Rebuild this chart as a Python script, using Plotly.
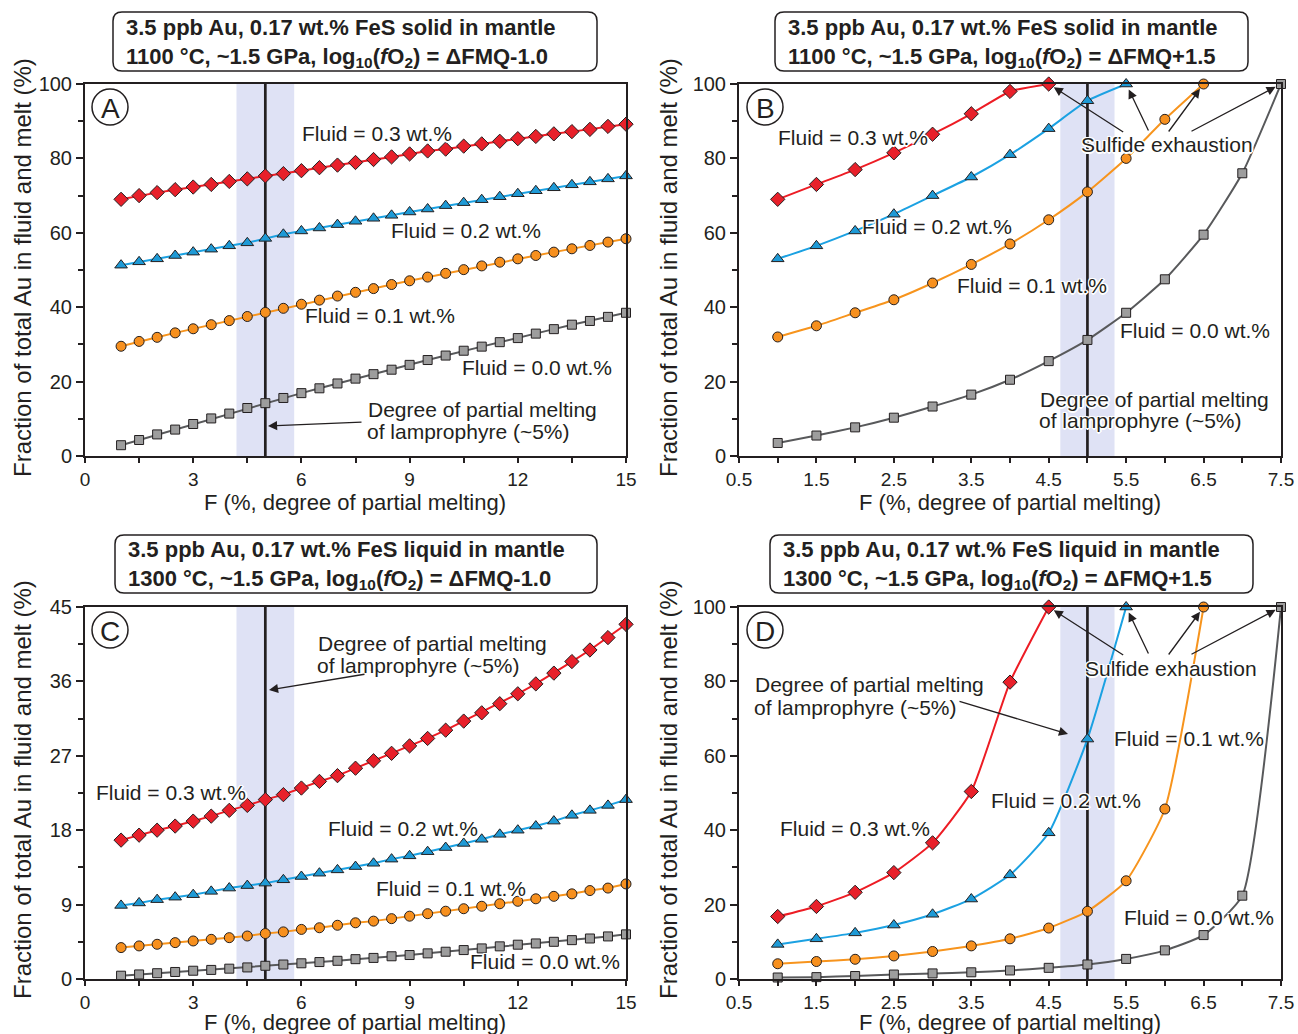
import plotly.graph_objects as go

W, H = 1298, 1034
FONT = "Liberation Sans, Arial, sans-serif"
INK = "#231f20"

# ---------------- data ----------------
F_wide = [1, 1.5, 2, 2.5, 3, 3.5, 4, 4.5, 5, 5.5, 6, 6.5, 7, 7.5, 8, 8.5, 9, 9.5,
          10, 10.5, 11, 11.5, 12, 12.5, 13, 13.5, 14, 14.5, 15]

# Panel A: FeS solid, 1100 C, dFMQ-1.0
A_f03 = [69.0, 70.0, 70.8, 71.6, 72.3, 73.0, 73.8, 74.5, 75.3, 75.9, 76.7, 77.5, 78.2, 78.9, 79.7,
         80.4, 81.2, 82.0, 82.5, 83.3, 83.9, 84.6, 85.3, 85.9, 86.6, 87.2, 87.8, 88.6, 89.2]
A_f02 = [51.3, 52.2, 53.0, 53.9, 54.8, 55.6, 56.5, 57.3, 58.5, 59.6, 60.5, 61.3, 62.2, 63.1, 63.9,
         64.7, 65.6, 66.4, 67.3, 68.1, 68.9, 69.7, 70.5, 71.3, 72.1, 72.9, 73.7, 74.5, 75.3]
A_f01 = [29.5, 30.8, 31.9, 33.1, 34.2, 35.3, 36.4, 37.5, 38.6, 39.7, 40.8, 41.9, 43.0, 44.0, 45.0,
         46.1, 47.1, 48.1, 49.1, 50.1, 51.1, 52.1, 53.0, 53.9, 54.8, 55.7, 56.6, 57.5, 58.4]
A_f00 = [2.9, 4.3, 5.8, 7.1, 8.6, 10.1, 11.4, 12.9, 14.2, 15.6, 16.9, 18.2, 19.5, 20.8, 22.0,
         23.2, 24.5, 25.8, 27.0, 28.3, 29.4, 30.6, 31.7, 32.9, 34.1, 35.3, 36.3, 37.4, 38.5]

# Panel C: FeS liquid, 1300 C, dFMQ-1.0
C_f03 = [16.8, 17.4, 18.0, 18.5, 19.1, 19.7, 20.4, 21.0, 21.7, 22.3, 23.1, 23.9, 24.6, 25.5, 26.4,
         27.3, 28.2, 29.1, 30.1, 31.2, 32.2, 33.3, 34.5, 35.7, 37.0, 38.4, 39.8, 41.3, 42.9]
C_f02 = [8.9, 9.2, 9.6, 9.9, 10.2, 10.6, 11.0, 11.3, 11.6, 12.0, 12.4, 12.8, 13.2, 13.6, 14.0,
         14.5, 14.9, 15.4, 15.9, 16.4, 16.9, 17.5, 18.0, 18.5, 19.1, 19.8, 20.4, 21.0, 21.7]
C_f01 = [3.8, 4.0, 4.2, 4.4, 4.6, 4.8, 5.0, 5.2, 5.5, 5.7, 6.0, 6.2, 6.5, 6.8, 7.0,
         7.3, 7.6, 7.9, 8.2, 8.5, 8.8, 9.1, 9.4, 9.7, 10.0, 10.3, 10.7, 11.0, 11.5]
C_f00 = [0.4, 0.55, 0.7, 0.85, 1.0, 1.1, 1.25, 1.4, 1.6, 1.75, 1.9, 2.05, 2.2, 2.4, 2.55,
         2.75, 2.9, 3.1, 3.3, 3.5, 3.7, 3.95, 4.15, 4.3, 4.5, 4.7, 4.9, 5.15, 5.4]

# Panels B and D (narrow F range, ending at sulfide exhaustion)
F_03 = [1, 1.5, 2, 2.5, 3, 3.5, 4, 4.5]
F_02 = [1, 1.5, 2, 2.5, 3, 3.5, 4, 4.5, 5, 5.5]
F_01 = [1, 1.5, 2, 2.5, 3, 3.5, 4, 4.5, 5, 5.5, 6, 6.5]
F_00 = [1, 1.5, 2, 2.5, 3, 3.5, 4, 4.5, 5, 5.5, 6, 6.5, 7, 7.5]

B_f03 = [69.0, 73.0, 77.0, 81.5, 86.5, 92.0, 98.0, 100.0]
B_f02 = [53.0, 56.5, 60.5, 65.0, 70.0, 75.0, 81.0, 88.0, 95.5, 100.0]
B_f01 = [32.0, 35.0, 38.5, 42.0, 46.5, 51.5, 57.0, 63.5, 71.0, 80.0, 90.5, 100.0]
B_f00 = [3.5, 5.5, 7.7, 10.3, 13.3, 16.5, 20.5, 25.5, 31.2, 38.5, 47.5, 59.5, 76.0, 100.0]

D_f03 = [16.8, 19.5, 23.3, 28.6, 36.6, 50.4, 79.8, 100.0]
D_f02 = [9.3, 10.8, 12.4, 14.5, 17.4, 21.5, 28.0, 39.3, 64.5, 100.0]
D_f01 = [4.1, 4.7, 5.3, 6.2, 7.4, 8.9, 10.8, 13.7, 18.2, 26.4, 45.7, 100.0]
D_f00 = [0.4, 0.5, 0.8, 1.2, 1.5, 1.8, 2.3, 3.0, 3.9, 5.4, 7.7, 11.8, 22.4, 100.0]

series_labels = ["Fluid = 0.3 wt.%", "Fluid = 0.2 wt.%", "Fluid = 0.1 wt.%", "Fluid = 0.0 wt.%"]
x_title = "F (%, degree of partial melting)"
y_title = "Fraction of total Au in fluid and melt (%)"
panel_titles = [
    "<b>3.5 ppb Au, 0.17 wt.% FeS solid in mantle<br>1100 °C, ~1.5 GPa, log<sub>10</sub>(<i>f</i>O<sub>2</sub>) = ΔFMQ-1.0</b>",
    "<b>3.5 ppb Au, 0.17 wt.% FeS solid in mantle<br>1100 °C, ~1.5 GPa, log<sub>10</sub>(<i>f</i>O<sub>2</sub>) = ΔFMQ+1.5</b>",
    "<b>3.5 ppb Au, 0.17 wt.% FeS liquid in mantle<br>1300 °C, ~1.5 GPa, log<sub>10</sub>(<i>f</i>O<sub>2</sub>) = ΔFMQ-1.0</b>",
    "<b>3.5 ppb Au, 0.17 wt.% FeS liquid in mantle<br>1300 °C, ~1.5 GPa, log<sub>10</sub>(<i>f</i>O<sub>2</sub>) = ΔFMQ+1.5</b>",
]

# ---------------- styles ----------------
STY = [
    dict(line="#ed1c24", fill="#e8202a", symbol="diamond", size=11),
    dict(line="#1ba1e2", fill="#1e9ad6", symbol="triangle-up", size=11),
    dict(line="#f7941d", fill="#f7901e", symbol="circle", size=10),
    dict(line="#58595b", fill="#9d9d9d", symbol="square", size=9),
]


def px(x, y):
    return x / W, 1 - y / H


fig = go.Figure()

# axes geometry (pixels)
PX = {1: (85, 626), 2: (739, 1281), 3: (85, 626), 4: (739, 1281)}
PY = {1: (84, 456), 2: (84, 456), 3: (607, 979), 4: (607, 979)}


def add_series(ax, xs_list, ys_list, shape):
    for k, (xs, ys) in enumerate(zip(xs_list, ys_list)):
        s = STY[k]
        fig.add_trace(go.Scatter(
            x=xs, y=ys, mode="lines+markers",
            xaxis="x" if ax == 1 else f"x{ax}", yaxis="y" if ax == 1 else f"y{ax}",
            line=dict(color=s["line"], width=2, shape=shape, smoothing=0.5),
            marker=dict(symbol=s["symbol"], size=s["size"], color=s["fill"],
                        line=dict(color=INK, width=1)),
            cliponaxis=False, showlegend=False, hoverinfo="x+y"))


add_series(1, [F_wide] * 4, [A_f03, A_f02, A_f01, A_f00], "linear")
add_series(2, [F_03, F_02, F_01, F_00], [B_f03, B_f02, B_f01, B_f00], "spline")
add_series(3, [F_wide] * 4, [C_f03, C_f02, C_f01, C_f00], "linear")
add_series(4, [F_03, F_02, F_01, F_00], [D_f03, D_f02, D_f01, D_f00], "spline")

tickfont = dict(family=FONT, size=20, color=INK)
xtickfont = dict(family=FONT, size=19, color=INK)


def axis_x(ax, rng, dtick, tick0, minor):
    x0, x1 = PX[ax]
    return dict(domain=[x0 / W, x1 / W], range=rng, dtick=dtick, tick0=tick0, automargin=False,
                showline=True, linecolor=INK, linewidth=2, mirror=True,
                ticks="outside", ticklen=5, tickwidth=1.5, tickcolor=INK,
                minor=dict(ticks="outside", ticklen=5, tickwidth=1.5, tickcolor=INK, dtick=minor, tick0=tick0),
                showgrid=False, zeroline=False, tickfont=xtickfont,
                anchor="y" if ax == 1 else f"y{ax}")


def axis_y(ax, rng, dtick, minor):
    y0, y1 = PY[ax]
    return dict(domain=[1 - y1 / H, 1 - y0 / H], range=rng, dtick=dtick, tick0=0, automargin=False,
                showline=True, linecolor=INK, linewidth=2, mirror=True,
                ticks="outside", ticklen=7, tickwidth=1.5, tickcolor=INK,
                minor=dict(ticks="outside", ticklen=5, tickwidth=1.5, tickcolor=INK, dtick=minor, tick0=0),
                showgrid=False, zeroline=False, tickfont=tickfont,
                anchor="x" if ax == 1 else f"x{ax}")


layout = dict(
    width=W, height=H, margin=dict(l=0, r=0, t=0, b=0, autoexpand=False),
    paper_bgcolor="white", plot_bgcolor="white", showlegend=False,
    font=dict(family=FONT, color=INK),
    xaxis=axis_x(1, [0, 15], 3, 0, 1.5), yaxis=axis_y(1, [0, 100], 20, 10),
    xaxis2=axis_x(2, [0.5, 7.5], 1, 0.5, 0.5), yaxis2=axis_y(2, [0, 100], 20, 10),
    xaxis3=axis_x(3, [0, 15], 3, 0, 1.5), yaxis3=axis_y(3, [0, 45], 9, 4.5),
    xaxis4=axis_x(4, [0.5, 7.5], 1, 0.5, 0.5), yaxis4=axis_y(4, [0, 100], 20, 10),
)
fig.update_layout(**layout)

shapes = []
annotations = []
HALO = "-1px -1px 0 #fff, 1px -1px 0 #fff, -1px 1px 0 #fff, 1px 1px 0 #fff, 0 2px 0 #fff, 2px 0 0 #fff"


def xr(ax):
    return "x" if ax == 1 else f"x{ax}"


def yd(ax):
    return "y domain" if ax == 1 else f"y{ax} domain"


# shaded band + vertical line at F = 5%
for ax, (b0, b1) in {1: (4.2, 5.8), 2: (4.65, 5.35), 3: (4.2, 5.8), 4: (4.65, 5.35)}.items():
    shapes.append(dict(type="rect", xref=xr(ax), yref=yd(ax), x0=b0, x1=b1, y0=0, y1=1,
                       fillcolor="#dfe2f5", line=dict(width=0), layer="below"))
    shapes.append(dict(type="line", xref=xr(ax), yref=yd(ax), x0=5, x1=5, y0=0, y1=1,
                       line=dict(color=INK, width=2.7), layer="below"))


def text(x, y, t, size=21, xanchor="center", angle=0):
    X, Y = px(x, y)
    annotations.append(dict(x=X, y=Y, xref="paper", yref="paper", text=t, showarrow=False,
                            xanchor=xanchor, yanchor="middle", textangle=angle,
                            font=dict(family=FONT, size=size, color=INK, shadow=HALO)))


def arrow_px(hx, hy, tx, ty):
    X, Y = px(hx, hy)
    annotations.append(dict(x=X, y=Y, xref="paper", yref="paper", text="", showarrow=True,
                            ax=tx - hx, ay=ty - hy, axref="pixel", ayref="pixel",
                            arrowhead=2, arrowsize=1.4, arrowwidth=1.3, arrowcolor=INK, standoff=0))


def arrow_data(ax, x, y, dx, dy):
    annotations.append(dict(x=x, y=y, xref=xr(ax), yref="y" if ax == 1 else f"y{ax}", text="",
                            showarrow=True, ax=dx, ay=dy, axref="pixel", ayref="pixel",
                            arrowhead=2, arrowsize=1.4, arrowwidth=1.3, arrowcolor=INK, standoff=6))


def rbox(x0, y0, x1, y1, r=9):
    pts = lambda x, y: "%.5f,%.5f" % px(x, y)
    path = ("M " + pts(x0 + r, y0) + " L " + pts(x1 - r, y0) + " Q " + pts(x1, y0) + " " + pts(x1, y0 + r) +
            " L " + pts(x1, y1 - r) + " Q " + pts(x1, y1) + " " + pts(x1 - r, y1) +
            " L " + pts(x0 + r, y1) + " Q " + pts(x0, y1) + " " + pts(x0, y1 - r) +
            " L " + pts(x0, y0 + r) + " Q " + pts(x0, y0) + " " + pts(x0 + r, y0) + " Z")
    shapes.append(dict(type="path", xref="paper", yref="paper", path=path,
                       line=dict(color=INK, width=1.5), fillcolor="white"))


# title boxes
boxes = [(113, 12, 597, 71), (775, 12, 1248, 71), (115, 535, 597, 593), (770, 535, 1253, 593)]
for (x0, y0, x1, y1), t in zip(boxes, panel_titles):
    rbox(x0, y0, x1, y1)
    X, Y = px(x0 + 11, (y0 + y1) / 2 + 1)
    annotations.append(dict(x=X, y=Y, xref="paper", yref="paper", text=t, showarrow=False,
                            xanchor="left", yanchor="middle", align="left",
                            font=dict(family=FONT, size=22, color=INK)))

# circled panel letters
for (cx, cy), letter in zip([(110, 107), (765, 107), (110, 630), (765, 630)], "ABCD"):
    X0, Y0 = px(cx - 18, cy + 18)
    X1, Y1 = px(cx + 18, cy - 18)
    shapes.append(dict(type="circle", xref="paper", yref="paper", x0=X0, y0=Y0, x1=X1, y1=Y1,
                       line=dict(color=INK, width=1.5)))
    text(cx, cy + 1, letter, size=28)

# axis titles
for cx, cy in [(355, 502), (1010, 502), (355, 1022), (1010, 1022)]:
    text(cx, cy, x_title, size=22)
for cx, cy in [(22, 268), (668, 268), (22, 790), (668, 790)]:
    text(cx, cy, y_title, size=24, angle=-90)

# Panel A labels
text(377, 133, series_labels[0])
text(466, 231, series_labels[1])
text(380, 316, series_labels[2])
text(537, 367, series_labels[3])
text(482, 409, "Degree of partial melting")
text(365, 431, "of lamprophyre (~5%)", xanchor="left")
arrow_px(268, 426, 363, 422)

# Panel B labels
text(853, 138, series_labels[0])
text(937, 226, series_labels[1])
text(1032, 285, series_labels[2])
text(1195, 330, series_labels[3])
text(1154, 399, "Degree of partial melting")
text(1037, 421, "of lamprophyre (~5%)", xanchor="left")
for x, dx, dy in [(4.5, 76, 49), (5.5, 23, 48), (6.5, -36, 49), (7.5, -91, 48)]:
    arrow_data(2, x, 100, dx, dy)
text(1167, 144, "Sulfide exhaustion")

# Panel C labels
text(432, 643, "Degree of partial melting")
text(315, 665, "of lamprophyre (~5%)", xanchor="left")
arrow_px(269, 690, 366, 674)
text(171, 792, series_labels[0])
text(403, 828, series_labels[1])
text(451, 888, series_labels[2])
text(545, 961, series_labels[3])

# Panel D labels
text(869, 684, "Degree of partial melting")
text(752, 707, "of lamprophyre (~5%)", xanchor="left")
arrow_px(1068, 734, 958, 701)
text(855, 828, series_labels[0])
text(1066, 800, series_labels[1])
text(1189, 738, series_labels[2])
text(1199, 917, series_labels[3])
for x, dx, dy in [(4.5, 76, 49), (5.5, 23, 48), (6.5, -36, 49), (7.5, -91, 48)]:
    arrow_data(4, x, 100, dx, dy)
text(1171, 668, "Sulfide exhaustion")

fig.update_layout(shapes=shapes, annotations=annotations)
fig.write_html("out.html", config={"displayModeBar": False},
               post_script="document.body.style.margin='0';document.body.style.overflow='hidden';")
